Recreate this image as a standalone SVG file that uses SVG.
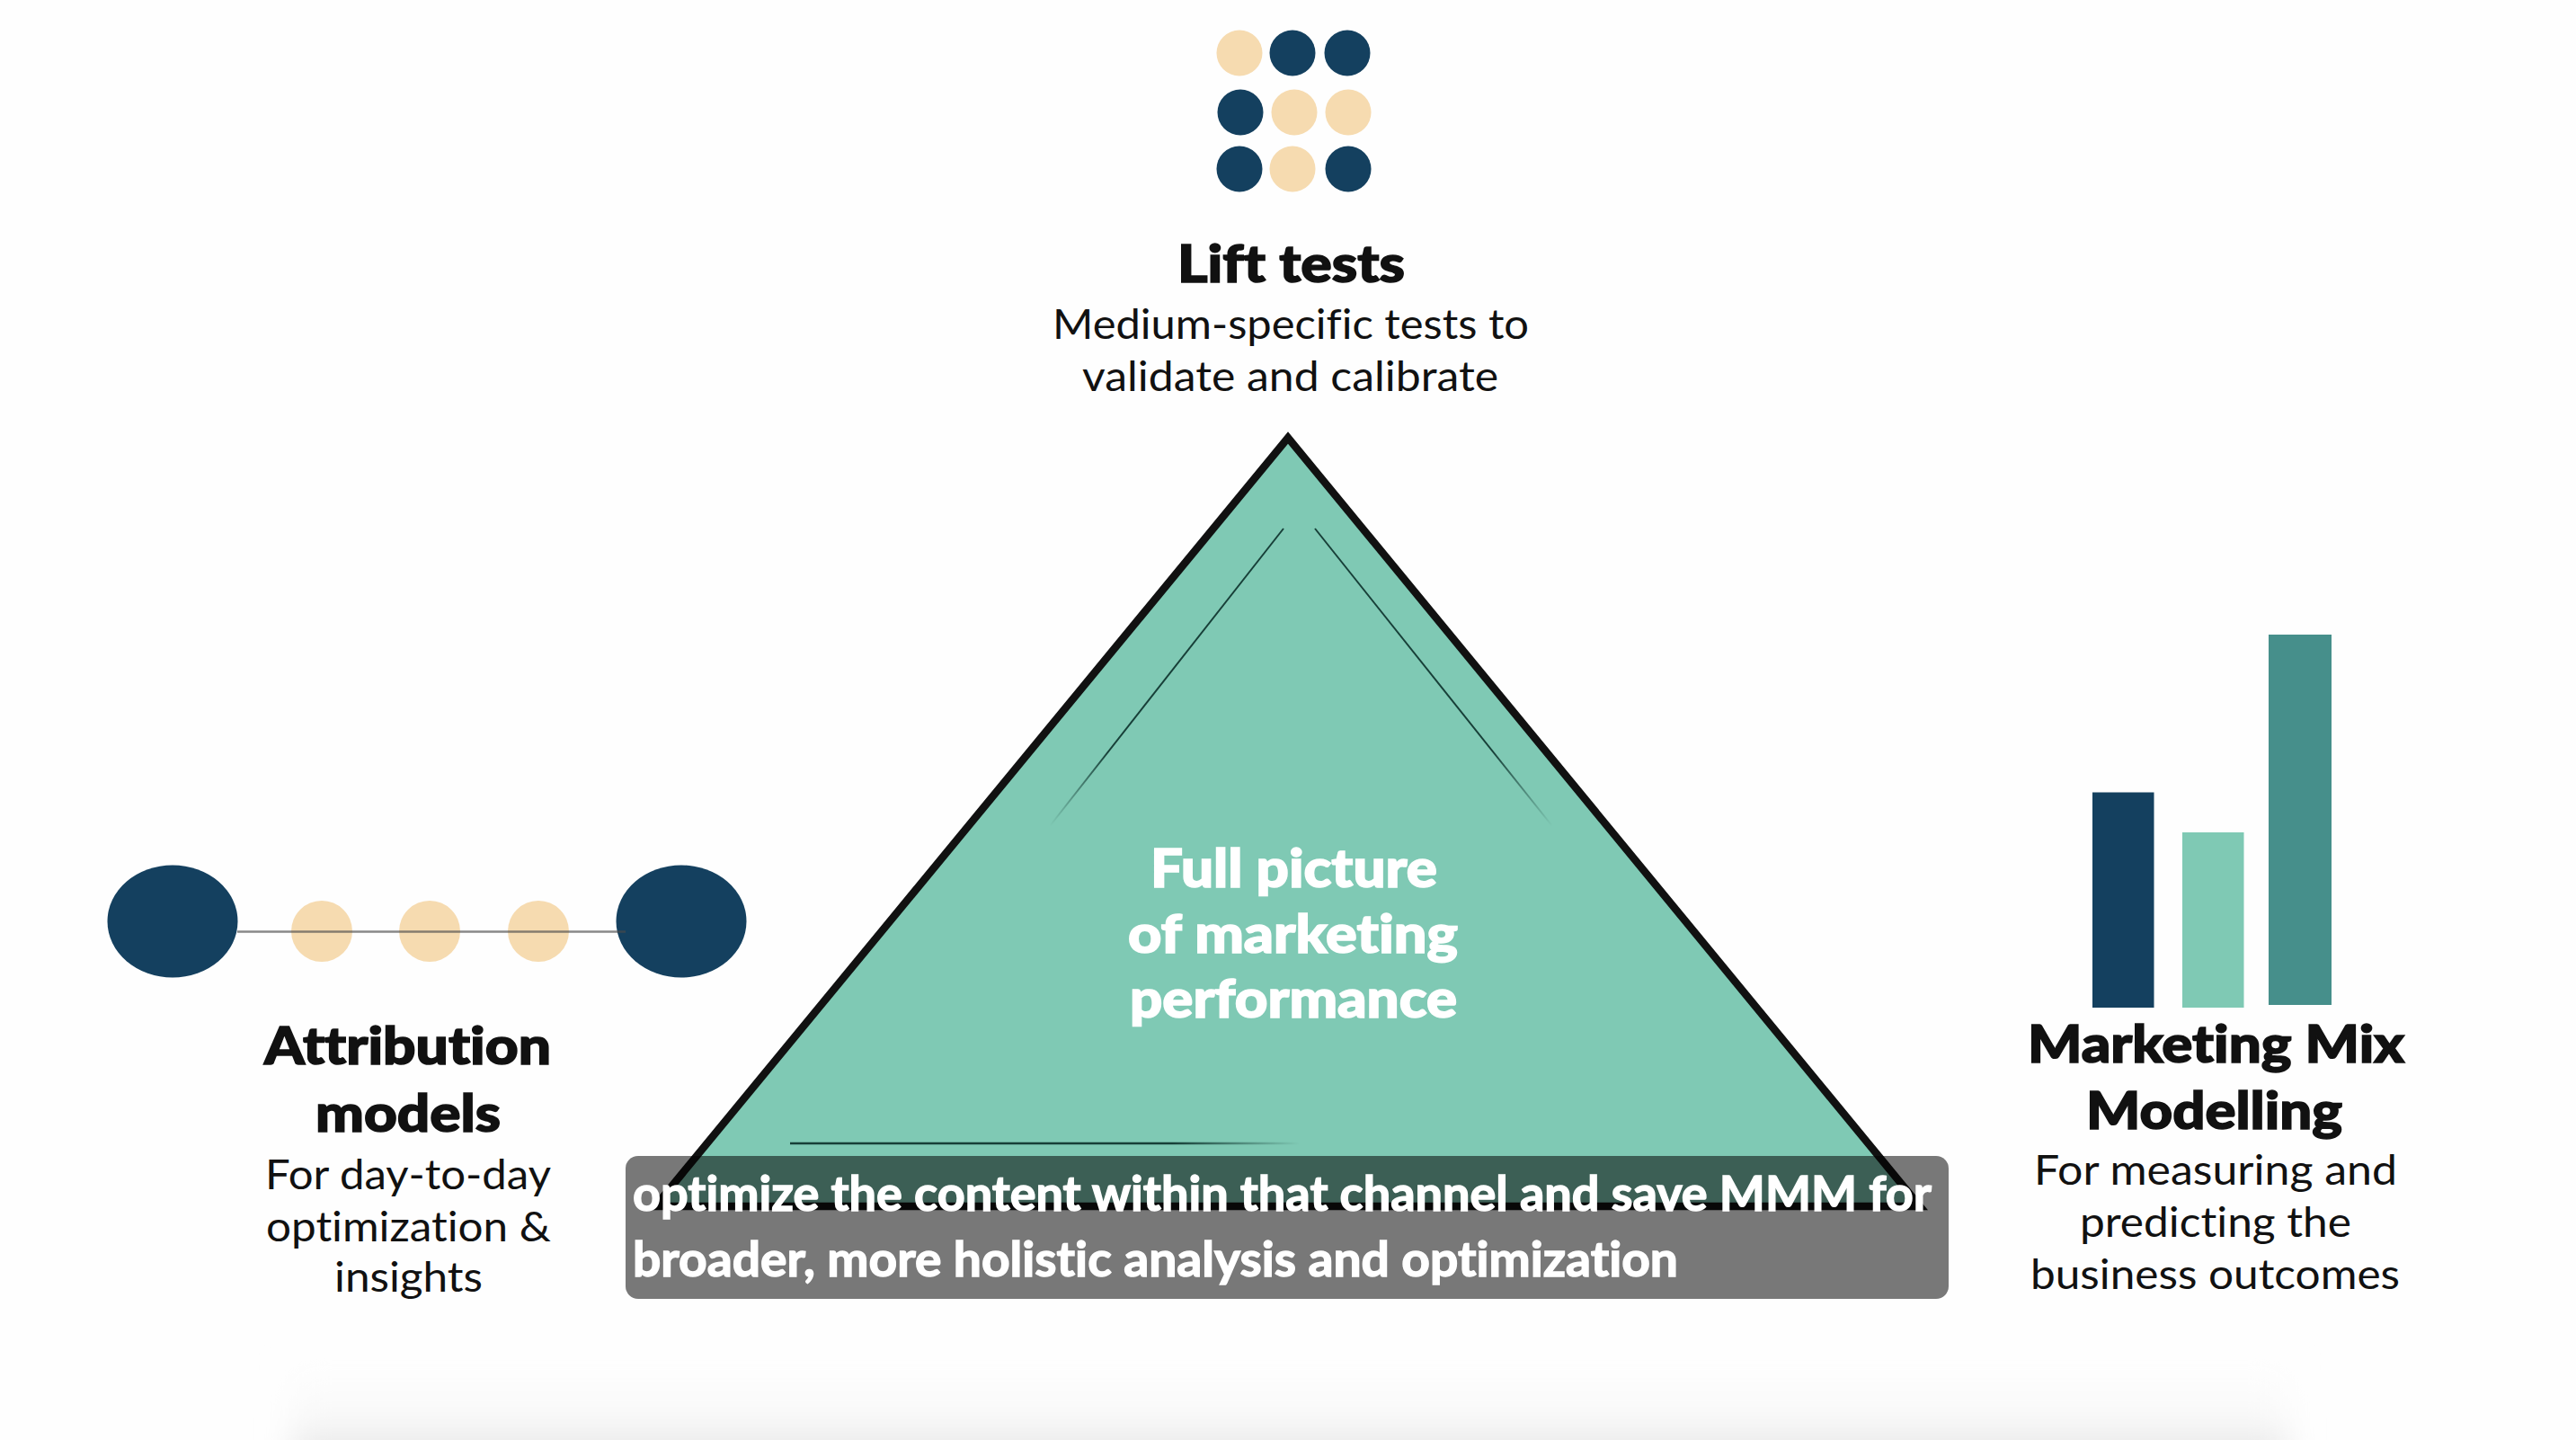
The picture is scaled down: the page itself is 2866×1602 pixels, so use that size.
<svg xmlns="http://www.w3.org/2000/svg" width="2866" height="1602" viewBox="0 0 2866 1602">
<style>
text{font-family:"Lato","Noto Sans","Liberation Sans",sans-serif;font-variant-ligatures:none}
.t{font-size:58px;font-weight:900;fill:#111;stroke:#111;stroke-width:1.6px}
.b{font-size:46px;font-weight:400;fill:#111}
.w{font-size:59px;font-weight:900;fill:#fff;stroke:#fff;stroke-width:1.6px}
.c{font-size:53px;font-weight:700;fill:#fff;stroke:#fff;stroke-width:1.4px}
.n{fill:#14405f}
.p{fill:#f6dbb0}
</style>
<defs>
<linearGradient id="fl" gradientUnits="userSpaceOnUse" x1="1428" y1="588" x2="1168" y2="919"><stop offset="0" stop-color="#173f38"/><stop offset=".75" stop-color="#173f38"/><stop offset="1" stop-color="#173f38" stop-opacity="0"/></linearGradient>
<linearGradient id="fr" gradientUnits="userSpaceOnUse" x1="1463" y1="588" x2="1727" y2="919"><stop offset="0" stop-color="#173f38"/><stop offset=".75" stop-color="#173f38"/><stop offset="1" stop-color="#173f38" stop-opacity="0"/></linearGradient>
<linearGradient id="fb" gradientUnits="userSpaceOnUse" x1="879" y1="1272" x2="1446" y2="1272"><stop offset="0" stop-color="#173f38"/><stop offset=".75" stop-color="#173f38"/><stop offset="1" stop-color="#173f38" stop-opacity="0"/></linearGradient>
<linearGradient id="sh" x1="0" y1="0" x2="0" y2="1"><stop offset="0" stop-color="#fefefe"/><stop offset=".55" stop-color="#f8f8f8"/><stop offset="1" stop-color="#dcdcdc"/></linearGradient>
<filter id="bl" x="-5%" y="-30%" width="110%" height="160%"><feGaussianBlur stdDeviation="18"/></filter>
</defs>
<rect width="2866" height="1602" fill="#fefefe"/>
<rect x="325" y="1525" width="2220" height="110" fill="url(#sh)" filter="url(#bl)"/>

<g id="lift-tests">
<circle class="p" cx="1379" cy="59" r="25.5"/><circle class="n" cx="1438" cy="59" r="25.5"/><circle class="n" cx="1499" cy="59" r="25.5"/>
<circle class="n" cx="1380" cy="125" r="25.5"/><circle class="p" cx="1440" cy="125" r="25.5"/><circle class="p" cx="1500" cy="125" r="25.5"/>
<circle class="n" cx="1379" cy="188" r="25.5"/><circle class="p" cx="1438" cy="188" r="25.5"/><circle class="n" cx="1500" cy="188" r="25.5"/>
<text class="t" x="1310" y="314" textLength="253" lengthAdjust="spacingAndGlyphs">Lift tests</text>
<text class="b" x="1171" y="377" textLength="530" lengthAdjust="spacingAndGlyphs">Medium-specific tests to</text>
<text class="b" x="1204" y="435" textLength="463" lengthAdjust="spacingAndGlyphs">validate and calibrate</text>
</g>

<g id="triangle">
<polygon points="1433,487 729,1342 2136,1342" fill="#7fc9b4" stroke="#111" stroke-width="8.500" stroke-linejoin="miter"/>
<line x1="1428" y1="588" x2="1168" y2="919" stroke="url(#fl)" stroke-width="2"/>
<line x1="1463" y1="588" x2="1727" y2="919" stroke="url(#fr)" stroke-width="2"/>
<line x1="879" y1="1272" x2="1446" y2="1272" stroke="url(#fb)" stroke-width="2.500"/>
<text class="w" x="1280" y="987" textLength="319" lengthAdjust="spacingAndGlyphs">Full picture</text>
<text class="w" x="1255" y="1060" textLength="367" lengthAdjust="spacingAndGlyphs">of marketing</text>
<text class="w" x="1257" y="1132" textLength="364" lengthAdjust="spacingAndGlyphs">performance</text>
</g>

<g id="attribution-models">
<ellipse class="n" cx="192" cy="1025" rx="72.500" ry="62.500"/>
<ellipse class="n" cx="758" cy="1025" rx="72.500" ry="62.500"/>
<circle class="p" cx="358" cy="1036" r="34"/>
<circle class="p" cx="478" cy="1036" r="34"/>
<circle class="p" cx="599" cy="1036" r="34"/>
<text class="t" x="294" y="1184" textLength="319" lengthAdjust="spacingAndGlyphs">Attribution</text>
<text class="t" x="351" y="1259" textLength="206" lengthAdjust="spacingAndGlyphs">models</text>
<text class="b" x="295" y="1323" textLength="318" lengthAdjust="spacingAndGlyphs">For day-to-day</text>
<text class="b" x="296" y="1381" textLength="317" lengthAdjust="spacingAndGlyphs">optimization &amp;</text>
<text class="b" x="372" y="1437" textLength="165" lengthAdjust="spacingAndGlyphs">insights</text>
</g>

<g id="connectors">
<line x1="264" y1="1036.500" x2="696" y2="1036.500" stroke="#4a4a4a" stroke-opacity=".65" stroke-width="2.500"/>
</g>

<g id="marketing-mix-modelling">
<rect class="n" x="2328" y="881.500" width="68.500" height="239.500"/>
<rect x="2428" y="926" width="68.500" height="195" fill="#7fc9b4"/>
<rect x="2524" y="706" width="70" height="412" fill="#468f8b"/>
<text class="t" x="2256" y="1182" textLength="419" lengthAdjust="spacingAndGlyphs">Marketing Mix</text>
<text class="t" x="2321" y="1256" textLength="285" lengthAdjust="spacingAndGlyphs">Modelling</text>
<text class="b" x="2263" y="1318" textLength="404" lengthAdjust="spacingAndGlyphs">For measuring and</text>
<text class="b" x="2314" y="1376" textLength="302" lengthAdjust="spacingAndGlyphs">predicting the</text>
<text class="b" x="2259" y="1434" textLength="411" lengthAdjust="spacingAndGlyphs">business outcomes</text>
</g>

<g id="caption">
<rect x="696" y="1286" width="1472" height="159" rx="14" fill="#000" fill-opacity=".53"/>
<text class="c" x="704" y="1347" textLength="1445" lengthAdjust="spacingAndGlyphs">optimize the content within that channel and save MMM for</text>
<text class="c" x="704" y="1420" textLength="1163" lengthAdjust="spacingAndGlyphs">broader, more holistic analysis and optimization</text>
</g>
</svg>
